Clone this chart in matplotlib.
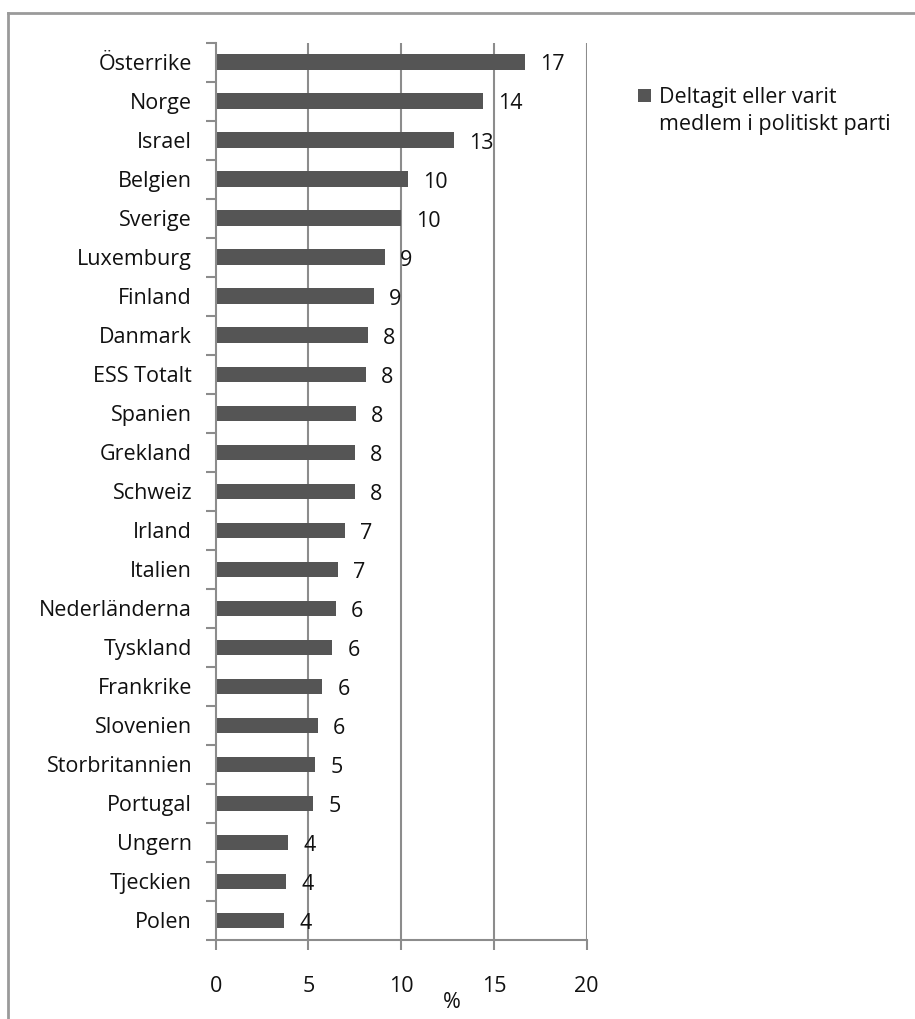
import matplotlib
matplotlib.use("Agg")
import matplotlib.pyplot as plt
from matplotlib.lines import Line2D
from matplotlib.patches import Rectangle
import numpy as np

plt.rcParams['font.family'] = ['Open Sans', 'DejaVu Sans']

countries = ["Österrike", "Norge", "Israel", "Belgien", "Sverige", "Luxemburg",
             "Finland", "Danmark", "ESS Totalt", "Spanien", "Grekland", "Schweiz",
             "Irland", "Italien", "Nederländerna", "Tyskland", "Frankrike",
             "Slovenien", "Storbritannien", "Portugal", "Ungern", "Tjeckien", "Polen"]
values = [16.67, 14.41, 12.85, 10.37, 10.0, 9.13, 8.53, 8.21, 8.10, 7.56, 7.51, 7.51,
          6.97, 6.59, 6.48, 6.27, 5.73, 5.51, 5.35, 5.24, 3.90, 3.79, 3.68]
labels = ["17", "14", "13", "10", "10", "9", "9", "8", "8", "8", "8", "8",
          "7", "7", "6", "6", "6", "6", "5", "5", "4", "4", "4"]
legend_lines = ["Deltagit eller varit", "medlem i politiskt parti"]
xticks = [0, 5, 10, 15, 20]
xlabel = "%"

W, H = 915, 1019
FS = 15.5
TXT = "#111111"
fig = plt.figure(figsize=(W / 100, H / 100), dpi=100)
ax = fig.add_axes([215.7 / W, 1 - 940 / H, (586.7 - 215.7) / W, (940 - 42.7) / H])

grid_c = "#8c8c8c"
bar_c = "#555555"
n = len(countries)
y = np.arange(n)[::-1]

for xv in xticks[1:]:
    ax.axvline(xv, color=grid_c, lw=1.5, zorder=0)

ax.barh(y, values, height=0.4, color=bar_c, zorder=2)
for yi, v, lab in zip(y, values, labels):
    ax.annotate(lab, xy=(v, yi), xytext=(11, -2), textcoords="offset points",
                ha="left", va="center", fontsize=FS, color=TXT)

ax.set_xlim(0, 20)
ax.set_ylim(-0.5, n - 0.5)
ax.set_xticks(xticks)
ax.set_xticklabels([str(t) for t in xticks])
ax.set_yticks(y)
ax.set_yticklabels(countries)
ax.set_yticks(np.arange(-0.5, n, 1.0), minor=True)
ax.tick_params(axis="y", which="major", length=0, pad=17, labelsize=FS, labelcolor=TXT)
ax.tick_params(axis="y", which="minor", length=7, width=1.5, color=grid_c, direction="out")
ax.tick_params(axis="x", which="major", length=7, width=1.5, color=grid_c, direction="out",
               pad=19, labelsize=FS, labelcolor=TXT)
for s in ["top", "right"]:
    ax.spines[s].set_visible(False)
for s in ["left", "bottom"]:
    ax.spines[s].set_color(grid_c)
    ax.spines[s].set_linewidth(1.5)

fig.text(452 / W, 1 - 1003 / H, xlabel, ha="center", va="center", fontsize=FS, color=TXT)

# legend
fig.patches.append(Rectangle((638 / W, 1 - 102 / H), 13 / W, 13 / H, transform=fig.transFigure,
                             facecolor=bar_c, edgecolor="none"))
fig.text(659 / W, 1 - 103 / H, legend_lines[0], ha="left", va="baseline", fontsize=FS, color=TXT)
fig.text(659 / W, 1 - 130 / H, legend_lines[1], ha="left", va="baseline", fontsize=FS, color=TXT)

# outer frame
fig.add_artist(Line2D([8 / W, 8 / W], [0, 1 - 12.5 / H], transform=fig.transFigure,
                      color="#9a9a9a", lw=2))
fig.add_artist(Line2D([8 / W, 1], [1 - 12.5 / H, 1 - 12.5 / H], transform=fig.transFigure,
                      color="#9a9a9a", lw=2))

fig.savefig("out.png", dpi=100)
